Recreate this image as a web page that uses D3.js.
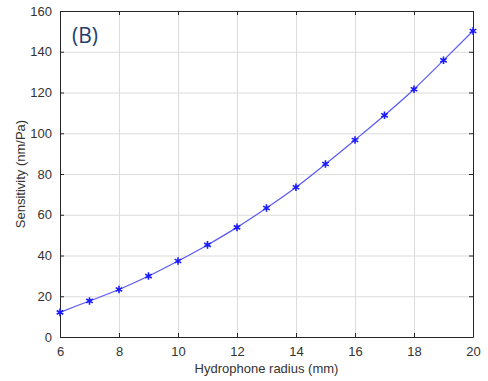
<!DOCTYPE html>
<html>
<head>
<meta charset="utf-8">
<script src="https://cdn.jsdelivr.net/npm/d3@7"></script>
<style>
  body { margin: 0; background: #fff; }
  .tick text { font-family: "Liberation Sans", Arial, sans-serif; font-size: 13px; fill: #333; }
  .grid line { stroke: #dcdcdc; stroke-width: 1; }
  .grid .domain { display: none; }
</style>
</head>
<body>
<div id="chart"></div>
<script>
const radius = [6, 7, 8, 9, 10, 11, 12, 13, 14, 15, 16, 17, 18, 19, 20];
const sensitivity = [12.1, 17.7, 23.3, 29.9, 37.3, 45.2, 53.8, 63.3, 73.5, 84.9, 96.7, 108.8, 121.6, 135.8, 150.2];
const xTicks = [6, 8, 10, 12, 14, 16, 18, 20];
const yTicks = [0, 20, 40, 60, 80, 100, 120, 140, 160];

const W = 488, H = 381;
const margin = { top: 11, right: 15, bottom: 44, left: 60 };
const width = W - margin.left - margin.right;
const height = H - margin.top - margin.bottom;

const svg = d3.select('#chart').append('svg')
  .attr('width', W)
  .attr('height', H);

const g = svg.append('g').attr('transform', `translate(${margin.left},${margin.top})`);

const x = d3.scaleLinear().domain([6, 20]).range([0, width]);
const y = d3.scaleLinear().domain([0, 160]).range([height, 0]);

// grid
g.append('g').attr('class', 'grid')
  .attr('transform', `translate(0,${height})`)
  .call(d3.axisBottom(x).tickValues(xTicks).tickSize(-height).tickFormat(''));
g.append('g').attr('class', 'grid')
  .call(d3.axisLeft(y).tickValues(yTicks).tickSize(-width).tickFormat(''));

// axes (ticks inward, MATLAB style)
const axisColor = '#262626';
const xa = g.append('g')
  .attr('transform', `translate(0,${height})`)
  .call(d3.axisBottom(x).tickValues(xTicks).tickSizeInner(-4).tickSizeOuter(0).tickPadding(10));
const ya = g.append('g')
  .call(d3.axisLeft(y).tickValues(yTicks).tickSizeInner(-4).tickSizeOuter(0).tickPadding(8));
g.append('g')
  .call(d3.axisTop(x).tickValues(xTicks).tickSizeInner(-4).tickSizeOuter(0).tickFormat(''));
g.append('g')
  .attr('transform', `translate(${width},0)`)
  .call(d3.axisRight(y).tickValues(yTicks).tickSizeInner(-4).tickSizeOuter(0).tickFormat(''));
g.selectAll('.domain, .tick line').filter(function () { return !this.closest('.grid'); })
  .attr('stroke', axisColor);

// line
const line = d3.line()
  .curve(d3.curveMonotoneX)
  .x((d, i) => x(radius[i]))
  .y(d => y(d));

g.append('path')
  .datum(sensitivity)
  .attr('fill', 'none')
  .attr('stroke', '#5a5af5')
  .attr('stroke-width', 1.2)
  .attr('d', line);

// asterisk markers
const star = d3.symbol().type(d3.symbolAsterisk).size(40);
g.selectAll('.marker')
  .data(sensitivity)
  .enter()
  .append('path')
  .attr('class', 'marker')
  .attr('transform', (d, i) => `translate(${x(radius[i])},${y(d)})`)
  .attr('d', star)
  .attr('fill', 'none')
  .attr('stroke', '#1a1aff')
  .attr('stroke-width', 1.6);

// labels
svg.append('text')
  .attr('x', margin.left + width / 2)
  .attr('y', 373)
  .attr('text-anchor', 'middle')
  .style('font-family', '"Liberation Sans", Arial, sans-serif')
  .style('font-size', '13px')
  .style('fill', '#333')
  .text('Hydrophone radius (mm)');

svg.append('text')
  .attr('transform', `translate(25,${margin.top + height / 2}) rotate(-90)`)
  .attr('text-anchor', 'middle')
  .style('font-family', '"Liberation Sans", Arial, sans-serif')
  .style('font-size', '13px')
  .style('fill', '#333')
  .text('Sensitivity (nm/Pa)');

svg.append('text')
  .attr('x', 72)
  .attr('y', 43)
  .style('font-family', '"Open Sans", "Noto Sans", sans-serif')
  .style('font-size', '21px')
  .style('fill', '#1f3f6e')
  .text('(B)');
</script>
</body>
</html>
